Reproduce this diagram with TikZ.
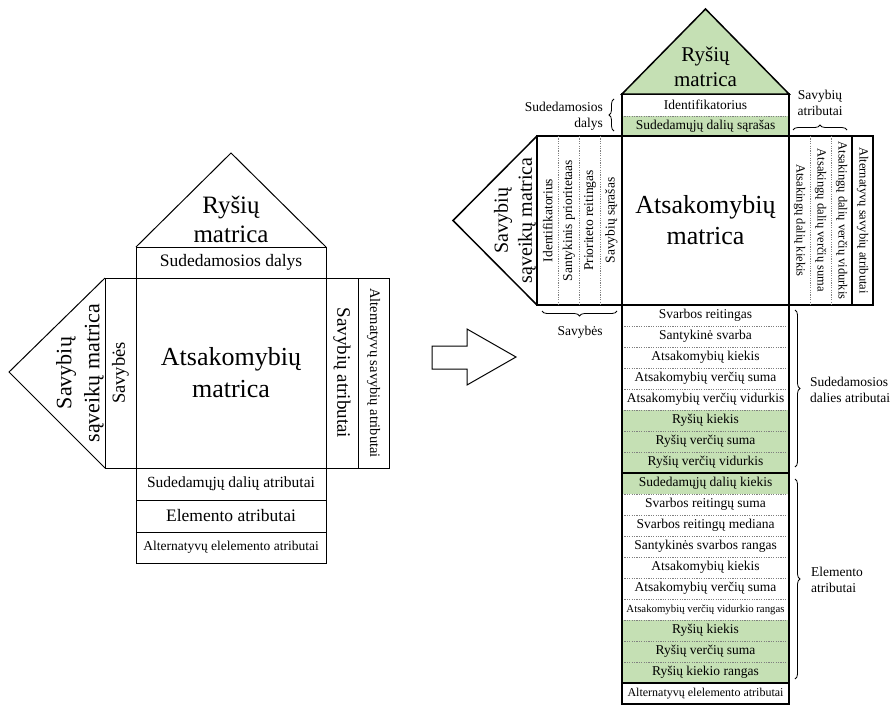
\documentclass[tikz,border=0pt]{standalone}
\usepackage{fontspec}
\setmainfont{Liberation Serif}
\newfontfamily\ser{Liberation Serif}
\usetikzlibrary{decorations.pathreplacing}
\definecolor{lgreen}{RGB}{197,224,180}
\newcommand\fsz[2]{\ser\fontsize{#1}{#2}\selectfont}
\begin{document}
\begin{tikzpicture}[x=1pt,y=1pt,
  lbox/.style={rectangle,inner sep=0pt,outer sep=0pt,draw,line width=1pt},
  rcell/.style={rectangle,inner sep=0pt,outer sep=0pt},
  sepl/.style={draw=gray,dash pattern=on 1.2pt off 1.2pt,line width=0.6pt},
  rline/.style={line width=1.5pt},
  brc/.style={decorate,decoration={brace,amplitude=5pt},line width=0.8pt},
  lbl/.style={inner sep=0pt,font=\fsz{13.5}{16}}]
\useasboundingbox (0,0) rectangle (893,-705);

% ================= LEFT DIAGRAM =================
\node[lbox,minimum width=190pt,minimum height=31pt,font=\fsz{17.5}{20}] (sdL) at (231,-262.5) {Sudedamosios dalys};
\coordinate (apexL) at (231,-153);
\draw[line width=1pt] (sdL.north west) -- (apexL) -- (sdL.north east);
\node[align=center,font=\fsz{25}{29}] (roofLt) at (231,-219) {Ryšių\\matrica};

\node[lbox,minimum width=190pt,minimum height=190pt,align=center,font=\fsz{26}{32}] (mainL) at (231,-373) {Atsakomybių\\matrica};

\node[lbox,minimum width=31pt,minimum height=190pt] (savL) at (120.5,-373) {};
\node[rotate=90,font=\fsz{18.5}{22}] (savLt) at (savL.center) {Savybės};
\coordinate (tipL) at (9,-372);
\draw[line width=1pt] (savL.north west) -- (tipL) -- (savL.south west);
\node[rotate=90,align=center,font=\fsz{22}{28}] (triLt) at (80,-373) {Savybių\\sąveikų matrica};

\node[lbox,minimum width=32pt,minimum height=190pt] (satL) at (342,-373) {};
\node[rotate=-90,font=\fsz{19}{22}] (satLt) at (satL.center) {Savybių atributai};
\node[lbox,minimum width=31pt,minimum height=190pt] (altL) at (373.5,-373) {};
\node[rotate=-90,font=\fsz{14.5}{17}] (altLt) at (altL.center) {Alternatyvų savybių atributai};

\node[lbox,minimum width=190pt,minimum height=32pt,font=\fsz{15.5}{18}] (sdaL) at (231,-484) {Sudedamųjų dalių atributai};
\node[lbox,minimum width=190pt,minimum height=32pt,font=\fsz{17.5}{20}] (elL) at (231,-516) {Elemento atributai};
\node[lbox,minimum width=190pt,minimum height=31pt,font=\fsz{13.5}{16}] (aeL) at (231,-547.5) {Alternatyvų elelemento atributai};

% ================= ARROW =================
\draw[line width=1pt] (432,-346) -- (467,-346) -- (467,-329) -- (516,-357) -- (467,-385) -- (467,-369) -- (432,-369) -- cycle;

% ================= RIGHT DIAGRAM =================
\node[rcell,minimum width=167pt,minimum height=22pt,font=\fsz{13.5}{16}] (idR) at (705.5,-105) {Identifikatorius};
\node[rcell,fill=lgreen,minimum width=167pt,minimum height=20pt,font=\fsz{13.5}{16}] (ssR) at (705.5,-126) {Sudedamųjų dalių sąrašas};
\draw[sepl] (idR.south west) -- (idR.south east);
\draw[rline] (idR.north west) rectangle (ssR.south east);
\coordinate (apexR) at (705.5,-9);
\draw[rline,fill=lgreen] (idR.north west) -- (apexR) -- (idR.north east) -- cycle;
\node[align=center,font=\fsz{21}{25}] (roofRt) at (705.5,-67) {Ryšių\\matrica};

\node[rcell,draw,rline,minimum width=167pt,minimum height=169pt,align=center,font=\fsz{26}{31}] (mainR) at (705.5,-220.5) {Atsakomybių\\matrica};

% properties columns
\node[rcell,draw,rline,minimum width=85pt,minimum height=169pt] (propR) at (579.5,-220.5) {};
\foreach \xx in {558.25,579.5,600.75} \draw[sepl] (\xx,-136) -- (\xx,-305);
\foreach \t [count=\i] in {Identifikatorius,Santykinis prioritetaas,Prioriteto reitingas,Savybių sąrašas}
  \node[rotate=90,font=\fsz{13.5}{16}] (pt\i) at ({537+21.25*(\i-0.5)},-220.5) {\t};
\coordinate (tipR) at (453,-220.5);
\draw[rline] (propR.north west) -- (tipR) -- (propR.south west);
\node[rotate=90,align=center,font=\fsz{20}{24}] (triRt) at (515,-220.5) {Savybių\\sąveikų matrica};

% attribute columns
\node[rcell,draw,rline,minimum width=63pt,minimum height=169pt] (attrR) at (820.5,-220.5) {};
\foreach \xx in {810,831} \draw[sepl] (\xx,-136) -- (\xx,-305);
\node[rcell,draw,rline,minimum width=21pt,minimum height=169pt] (altR) at (862.5,-220.5) {};
\foreach \t/\xx [count=\i] in {Atsakingų dalių kiekis/799.5,Atsakingų dalių verčių suma/820.5,Atsakingų dalių verčių vidurkis/841.5,Alternatyvų savybių atributai/862.5}
  \node[rotate=-90,font=\fsz{12.5}{15}] (at\i) at (\xx,-220.5) {\t};

% list group 1
\foreach \t/\f [count=\i] in {Svarbos reitingas/white,Santykinė svarba/white,Atsakomybių kiekis/white,Atsakomybių verčių suma/white,Atsakomybių verčių vidurkis/white,Ryšių kiekis/lgreen,Ryšių verčių suma/lgreen,Ryšių verčių vidurkis/lgreen}
  \node[rcell,fill=\f,minimum width=167pt,minimum height=21pt,font=\fsz{13.5}{16}] (ga\i) at (705.5,{-305-21*(\i-0.5)}) {\t};
\foreach \i in {1,...,7} \draw[sepl] (ga\i.south west) -- (ga\i.south east);
\draw[rline] (ga1.north west) rectangle (ga8.south east);

% list group 2
\foreach \t/\f [count=\i] in {Sudedamųjų dalių kiekis/lgreen,Svarbos reitingų suma/white,Svarbos reitingų mediana/white,Santykinės svarbos rangas/white,Atsakomybių kiekis/white,Atsakomybių verčių suma/white,{\fsz{10.8}{13}Atsakomybių verčių vidurkio rangas}/white,Ryšių kiekis/lgreen,Ryšių verčių suma/lgreen,Ryšių kiekio rangas/lgreen}
  \node[rcell,fill=\f,minimum width=167pt,minimum height=21pt,font=\fsz{13.5}{16}] (gb\i) at (705.5,{-473-21*(\i-0.5)}) {\t};
\foreach \i in {1,...,9} \draw[sepl] (gb\i.south west) -- (gb\i.south east);
\draw[rline] (gb1.north west) rectangle (gb10.south east);
\node[rcell,minimum width=167pt,minimum height=21pt,font=\fsz{12}{14}] (aeR) at (705.5,-693.5) {Alternatyvų elelemento atributai};
\draw[rline] (aeR.north west) rectangle (aeR.south east);

% braces and labels
\coordinate (b1a) at (614,-131); \coordinate (b1b) at (614,-99);
\draw[brc] (b1a) -- (b1b);
\node[lbl,anchor=east,align=right] (lb1) at (603,-116) {Sudedamosios\\dalys};

\coordinate (b2a) at (793,-130); \coordinate (b2b) at (847,-130);
\draw[brc] (b2a) -- (b2b);
\node[lbl,align=center] (lb2) at (820,-103) {Savybių\\atributai};

\coordinate (b3a) at (617,-311); \coordinate (b3b) at (542,-311);
\draw[brc] (b3a) -- (b3b);
\node[lbl] (lb3) at (580,-332) {Savybės};

\coordinate (b4a) at (795,-310); \coordinate (b4b) at (795,-467);
\draw[brc] (b4a) -- (b4b);
\node[lbl,anchor=west,align=left] (lb4) at (810,-390) {Sudedamosios\\dalies atributai};

\coordinate (b5a) at (795,-479); \coordinate (b5b) at (795,-679);
\draw[brc] (b5a) -- (b5b);
\node[lbl,anchor=west,align=left] (lb5) at (811,-580) {Elemento\\atributai};
\end{tikzpicture}
\end{document}
